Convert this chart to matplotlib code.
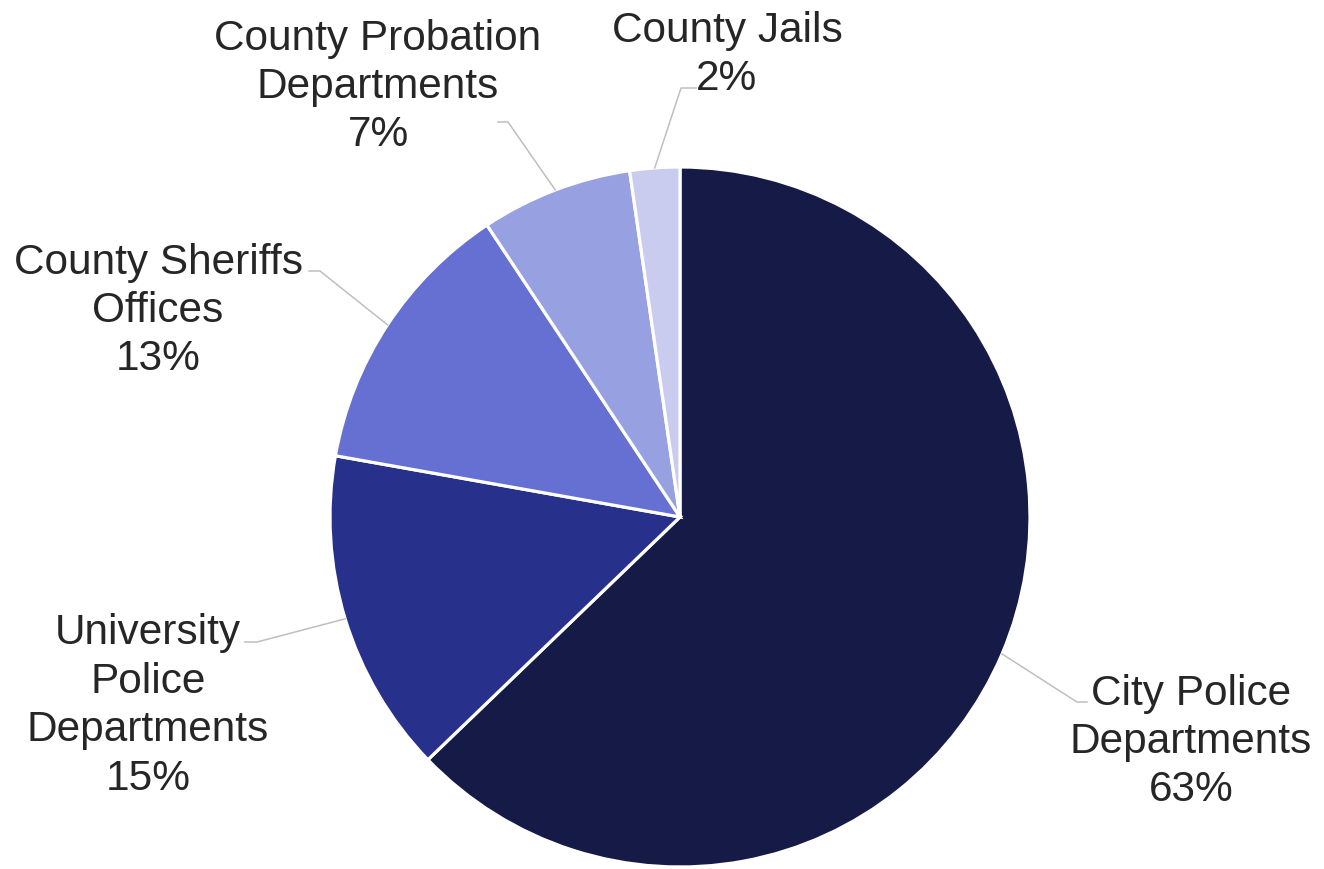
import numpy as np
import matplotlib
matplotlib.use('Agg')
import matplotlib.pyplot as plt

# Données du graphique (ordre horaire depuis le haut)
categories = ['City Police\nDepartments', 'University\nPolice\nDepartments',
              'County Sheriffs\nOffices', 'County Probation\nDepartments', 'County Jails']
values = [62.8, 15.0, 12.9, 7.0, 2.3]
colors = ['#161A46', '#27318B', '#6570D2', '#97A0E0', '#C9CCEE']

# Mise en page (pixels, y vers le bas)
cx, cy, R = 680, 518, 350
label_pos = [(1191, 742), (148, 706), (158, 311), (378, 87), (727, 55)]
elbows = [(1077, 703), (257, 643), (320, 272), (508, 123), (681, 89)]
stubs = [1087, 245, 309, 498, 696]

plt.rcParams['font.family'] = ['Liberation Sans', 'DejaVu Sans']

fig = plt.figure(figsize=(13.24, 8.70), dpi=100)
ax = fig.add_axes([0, 0, 1, 1])

wedges, _ = ax.pie(values, colors=colors, startangle=-90, counterclock=True,
                   center=(cx, cy), radius=R,
                   wedgeprops=dict(edgecolor='white', linewidth=2.3))
ax.set_xlim(0, 1324)
ax.set_ylim(870, 0)
ax.set_aspect('auto')
ax.axis('off')

for w, v, cat, (tx, ty), (ex, ey), sx in zip(wedges, values, categories,
                                              label_pos, elbows, stubs):
    mid = np.deg2rad((w.theta1 + w.theta2) / 2)
    px, py = cx + R * np.cos(mid), cy + R * np.sin(mid)
    ax.plot([px, ex, sx], [py, ey, ey], color='#BFBFBF', lw=1.1)
    ax.text(tx, ty, f"{cat}\n{round(v)}%", ha='center', va='center',
            fontsize=30.5, color='#262626', linespacing=1.27)

fig.savefig('out.png', dpi=100)
